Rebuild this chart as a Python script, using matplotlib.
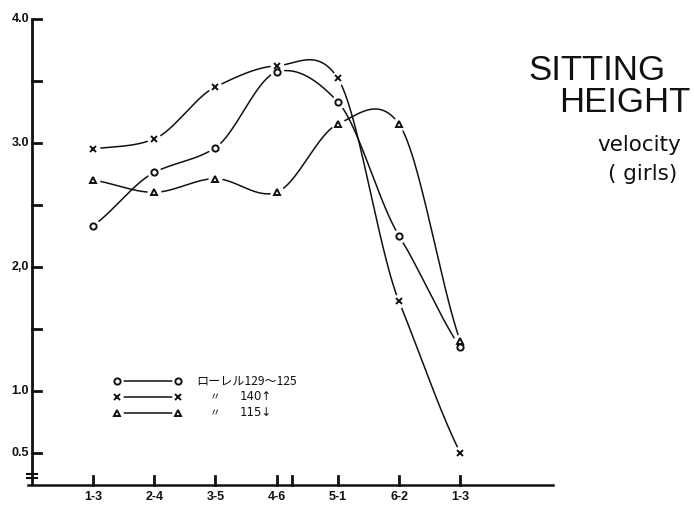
import numpy as np
import matplotlib
matplotlib.use("Agg")
import matplotlib.pyplot as plt

plt.rcParams['font.family'] = ['Liberation Sans', 'Noto Sans CJK JP', 'DejaVu Sans']

# ---- data ----
categories = ["1-3", "2-4", "3-5", "4-6", "5-1", "6-2", "1-3"]
rohrer_mid = [2.33, 2.76, 2.96, 3.57, 3.33, 2.25, 1.35]   # o  129~125
rohrer_high = [2.95, 3.03, 3.45, 3.62, 3.52, 1.72, 0.50]  # x  140 up
rohrer_low = [2.70, 2.60, 2.71, 2.60, 3.15, 3.15, 1.40]   # triangle 115 down
y_ticks = [0.5, 1.0, 1.5, 2.0, 2.5, 3.0, 3.5, 4.0]
y_labels = {0.5: "0.5", 1.0: "1.0", 2.0: "2,0", 3.0: "3.0", 4.0: "4.0"}
extra_tick = 3.25
legend_labels = ["ローレル129〜125", "〃", "〃"]
legend_values = ["", "140↑", "115↓"]

W, H = 694, 508
fig = plt.figure(figsize=(W / 100, H / 100), dpi=100)
# axes placed so that category i -> px 93 + 61.2 i ; value v -> py 390.7 - 124 (v-1)
px0, px1, py0, py1 = 22, 560, 10, 490
ax = fig.add_axes([px0 / W, 1 - py1 / H, (px1 - px0) / W, (py1 - py0) / H])
ax.set_xlim((px0 - 93) / 61.2, (px1 - 93) / 61.2)
ax.set_ylim(1 - (py1 - 390.7) / 124, 1 + (390.7 - py0) / 124)
ax.axis('off')

INK = '#111111'
x = np.arange(len(categories), dtype=float)


def smooth_curve(xk, yk, xs, tension=0.8):
    """Cardinal (Catmull-Rom style) curve through the points."""
    xk = np.asarray(xk, float); yk = np.asarray(yk, float)
    n = len(xk)
    m = np.zeros(n)
    m[1:-1] = (yk[2:] - yk[:-2]) / (xk[2:] - xk[:-2])
    m[0] = yk[1] - yk[0]
    m[-1] = yk[-1] - yk[-2]
    m *= tension
    idx = np.clip(np.searchsorted(xk, xs) - 1, 0, n - 2)
    h = xk[idx + 1] - xk[idx]
    t = (xs - xk[idx]) / h
    h00 = 2 * t ** 3 - 3 * t ** 2 + 1
    h10 = t ** 3 - 2 * t ** 2 + t
    h01 = -2 * t ** 3 + 3 * t ** 2
    h11 = t ** 3 - t ** 2
    return h00 * yk[idx] + h10 * h * m[idx] + h01 * yk[idx + 1] + h11 * h * m[idx + 1]


xs = np.linspace(0, 6, 600)
series = [(rohrer_mid, 'o', 4.5), (rohrer_high, 'x', 4.5), (rohrer_low, '^', 5)]
for vals, mk, ms in series:
    ax.plot(xs, smooth_curve(x, vals, xs), color=INK, lw=1.1, zorder=2)
for vals, mk, ms in series:
    ax.plot(x, vals, ls='none', marker='o', ms=9, mfc='white', mec='white', zorder=3)
    ax.plot(x, vals, ls='none', marker=mk, ms=ms, mfc='white', mec=INK, mew=1.4, zorder=4)

# y axis
axis_y = 1 - (485 - 390.7) / 124
yax_x = (32 - 93) / 61.2
ax.plot([yax_x, yax_x], [axis_y, 4.0], color=INK, lw=2, zorder=5, solid_capstyle='butt')
tick_dx = 9 / 61.2
for v in y_ticks:
    ax.plot([yax_x, yax_x + tick_dx], [v, v], color=INK, lw=2, zorder=5)
    if v in y_labels:
        ax.text(yax_x - 3 / 61.2, v, y_labels[v], ha='right', va='center',
                fontsize=9, fontweight='bold', color=INK)
# axis break
for py in (474, 478):
    vv = 1 - (py - 390.7) / 124
    ax.plot([yax_x - 5 / 61.2, yax_x + 5 / 61.2], [vv, vv], color=INK, lw=1.5, zorder=6)

# x axis
ax.plot([(28 - 93) / 61.2, (553 - 93) / 61.2], [axis_y, axis_y], color=INK, lw=1.8, zorder=5)
tick_dy = 9 / 124
for xi in list(x) + [extra_tick]:
    ax.plot([xi, xi], [axis_y, axis_y + tick_dy], color=INK, lw=2, zorder=5)
for xi, lab in zip(x, categories):
    ax.text(xi, 1 - (497 - 390.7) / 124, lab, ha='center', va='center',
            fontsize=9, fontweight='bold', color=INK)

# legend
rows = [381, 397, 413]
mk_list = ['o', 'x', '^']
for py, mk, lab, val in zip(rows, mk_list, legend_labels, legend_values):
    vv = 1 - (py - 390.7) / 124
    xa, xb = (117 - 93) / 61.2, (178 - 93) / 61.2
    ax.plot([xa, xb], [vv, vv], color=INK, lw=1.1, zorder=2)
    ax.plot([xa, xb], [vv, vv], ls='none', marker='o', ms=8, mfc='white', mec='white', zorder=3)
    ax.plot([xa, xb], [vv, vv], ls='none', marker=mk, ms=4.5, mfc='white', mec=INK, mew=1.4, zorder=4)
    if val:
        ax.text((210 - 93) / 61.2, vv, lab, ha='left', va='center', fontsize=7.5, color=INK,
                style='italic')
        ax.text((240 - 93) / 61.2, vv, val, ha='left', va='center', fontsize=8.5, color=INK,
                family=['DejaVu Sans'])
    else:
        ax.text((196 - 93) / 61.2, vv, lab, ha='left', va='center', fontsize=8.7, color=INK,
                family=['Noto Sans CJK JP', 'DejaVu Sans'])

# title block
fig.text(666 / W, 1 - 70 / H, "SITTING", ha='right', va='center', fontsize=25, color=INK)
fig.text(690 / W, 1 - 103 / H, "HEIGHT", ha='right', va='center', fontsize=25, color=INK)
fig.text(681 / W, 1 - 145 / H, "velocity", ha='right', va='center', fontsize=15.5, color=INK,
         family=['DejaVu Sans'])
fig.text(677 / W, 1 - 174 / H, "( girls)", ha='right', va='center', fontsize=15.5, color=INK,
         family=['DejaVu Sans'])

fig.savefig("out.png", dpi=100)
